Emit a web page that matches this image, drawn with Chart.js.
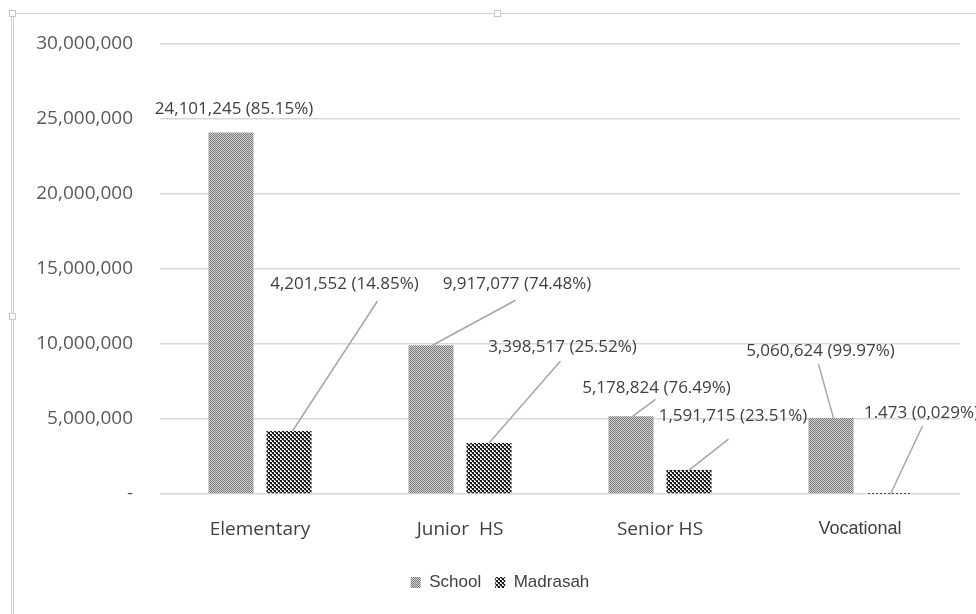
<!DOCTYPE html>
<html>
<head>
<meta charset="utf-8">
<script src="https://cdn.jsdelivr.net/npm/chart.js@4"></script>
<style>
  html, body { margin: 0; padding: 0; background: #fff; }
  #wrap { position: relative; width: 976px; height: 614px; }
  #frame { position: absolute; left: 11px; top: 13px; right: -2px; bottom: -2px;
           border-top: 1px solid #d0d0d0; border-left: 3px double #d0d0d0; }
  .handle { position: absolute; width: 5px; height: 5px; background: #fff; border: 1px solid #c8c8c8; }
</style>
</head>
<body>
<div id="wrap">
  <div id="frame"></div>
  <div class="handle" style="left:9px;top:10px"></div>
  <div class="handle" style="left:494px;top:10px"></div>
  <div class="handle" style="left:9px;top:313px"></div>
  <canvas id="chart" width="976" height="614"></canvas>
</div>
<script>
// Data
const categories = ['Elementary', 'Junior  HS', 'Senior HS', 'Vocational'];
const schoolValues = [24101245, 9917077, 5178824, 5060624];
const madrasahValues = [4201552, 3398517, 1591715, 1473];
const schoolLabels = ['24,101,245 (85.15%)', '9,917,077 (74.48%)', '5,178,824 (76.49%)', '5,060,624 (99.97%)'];
const madrasahLabels = ['4,201,552 (14.85%)', '3,398,517 (25.52%)', '1,591,715 (23.51%)', '1.473 (0,029%)'];
const yTicks = [0, 5000000, 10000000, 15000000, 20000000, 25000000, 30000000];

// label placement relative to bar top centre: text centre, leader line start (null = no line), leader end
const labelLayout = [
    [ // School
        { t: [3, -23], l: null },
        { t: [86, -61], l: [84.5, -45], e: [1.5, 0] },
        { t: [25.5, -28], l: [24.5, -17], e: [1.5, 0] },
        { t: [-10.5, -67], l: [-12.5, -54], e: [2.5, 0] }
    ],
    [ // Madrasah
        { t: [55.5, -147], l: [88.5, -130], e: [3.5, 0] },
        { t: [73.5, -96], l: [71.5, -82], e: [0, 0] },
        { t: [44, -54], l: [39.5, -31], e: [0, 0] },
        { t: [32.5, -81], l: [33.5, -68], e: [1.5, 0] }
    ]
];

function makePattern(size, draw) {
    const c = document.createElement('canvas');
    c.width = size; c.height = size;
    const g = c.getContext('2d');
    draw(g);
    return g.createPattern(c, 'repeat');
}

// fine grey dots
const schoolPattern = makePattern(2, g => {
    g.fillStyle = '#d2d2d2'; g.fillRect(0, 0, 2, 2);
    g.fillStyle = '#7a7a7a'; g.fillRect(0, 0, 1, 1); g.fillRect(1, 1, 1, 1);
});
// coarse dark checks
const madrasahPattern = makePattern(4, g => {
    g.fillStyle = '#f0f0f0'; g.fillRect(0, 0, 4, 4);
    g.fillStyle = '#1a1a1a'; g.fillRect(0, 0, 2, 2); g.fillRect(2, 2, 2, 2);
    g.fillStyle = '#707070'; g.fillRect(1, 2, 1, 1); g.fillRect(3, 0, 1, 1);
});

const dataLabelPlugin = {
    id: 'dataLabels',
    afterLayout(chart) {
        // nudge the legend to sit where the original one does
        const lg = chart.legend;
        if (lg) { lg.left += 10; lg.right += 10; }
    },
    afterDatasetsDraw(chart) {
        const ctx = chart.ctx;
        const allLabels = [schoolLabels, madrasahLabels];
        ctx.save();
        ctx.font = "17px 'Open Sans', sans-serif";
        ctx.textAlign = 'center';
        ctx.textBaseline = 'middle';
        chart.data.datasets.forEach((ds, di) => {
            const meta = chart.getDatasetMeta(di);
            meta.data.forEach((bar, i) => {
                const L = labelLayout[di][i];
                const bx = bar.x, by = bar.y;
                if (L.l) {
                    ctx.strokeStyle = '#a6a6a6';
                    ctx.lineWidth = 1.5;
                    ctx.beginPath();
                    ctx.moveTo(bx + L.l[0], by + L.l[1]);
                    ctx.lineTo(bx + L.e[0], by + L.e[1]);
                    ctx.stroke();
                }
                ctx.fillStyle = '#404040';
                ctx.fillText(allLabels[di][i], bx + L.t[0], by + L.t[1]);
            });
        });
        ctx.restore();
    }
};

const ctx = document.getElementById('chart').getContext('2d');
new Chart(ctx, {
    type: 'bar',
    data: {
        labels: categories,
        datasets: [
            { label: 'School', data: schoolValues, backgroundColor: schoolPattern, borderWidth: 0 },
            { label: 'Madrasah', data: madrasahValues, backgroundColor: madrasahPattern, borderWidth: 0 }
        ]
    },
    options: {
        responsive: false,
        animation: false,
        devicePixelRatio: 1,
        categoryPercentage: 0.58,
        barPercentage: 0.776,
        layout: { padding: { left: 20, right: 16, top: 44, bottom: 13 } },
        plugins: {
            tooltip: { enabled: false },
            legend: {
                position: 'bottom',
                labels: {
                    boxWidth: 10,
                    boxHeight: 11,
                    padding: 14,
                    color: '#404040',
                    font: { family: "'Liberation Sans', Arial, sans-serif", size: 17 }
                }
            }
        },
        scales: {
            y: {
                min: 0,
                max: 30000000,
                afterFit(scale) { scale.width = 140; },
                afterBuildTicks(scale) { scale.ticks = yTicks.map(v => ({ value: v })); },
                border: { display: false },
                grid: { color: '#d9d9d9', lineWidth: 1.5, drawTicks: false },
                ticks: {
                    padding: 27,
                    color: '#595959',
                    font: { family: "'Open Sans', sans-serif", size: 19 },
                    callback: v => v === 0 ? '-' : v.toLocaleString('en-US')
                }
            },
            x: {
                afterFit(scale) { scale.height = 66; },
                border: { display: false },
                grid: { display: false, drawTicks: false },
                ticks: {
                    padding: 24,
                    color: '#404040',
                    font: ctx => ctx.index === 3
                        ? { family: "'Liberation Sans', Arial, sans-serif", size: 18 }
                        : { family: "'Open Sans', sans-serif", size: 19 }
                }
            }
        }
    },
    plugins: [dataLabelPlugin]
});
</script>
</body>
</html>
